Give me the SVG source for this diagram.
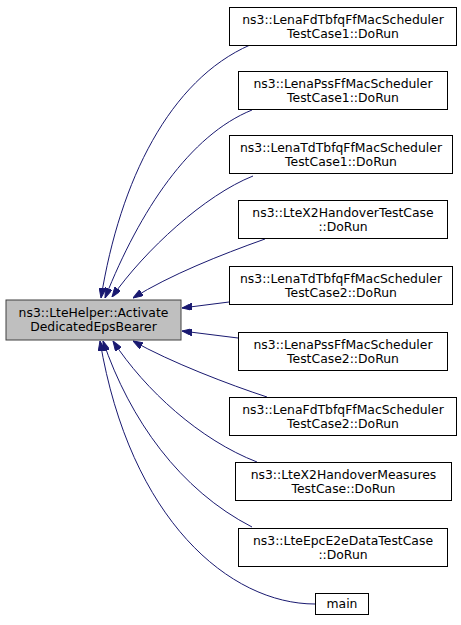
<svg xmlns="http://www.w3.org/2000/svg" width="461" height="625" viewBox="0 0 461 625">
<style>
.box{fill:#ffffff;stroke:#000000;stroke-width:1}
.main{fill:#bfbfbf;stroke:#404040;stroke-width:1}
text{font-family:"DejaVu Sans",sans-serif;font-size:12.4px;fill:#000000;text-anchor:middle}
.edge{fill:none;stroke:#191970;stroke-width:1;marker-end:url(#arr)}
</style>
<defs>
<marker id="arr" viewBox="0 0 10 7" refX="10" refY="3.5" markerWidth="10" markerHeight="7" markerUnits="userSpaceOnUse" orient="auto">
<path d="M0,0 L10,3.5 L0,7 z" fill="#191970" stroke="#191970" stroke-width="1"/>
</marker>
</defs>
<rect width="461" height="625" fill="#ffffff"/>
<g id="connectors">
<path class="edge" d="M250,45 C170,80 120,180 101,298"/>
<path class="edge" d="M252,110 C190,135 140,210 105,298"/>
<path class="edge" d="M253,176 C205,195 145,250 112,297"/>
<path class="edge" d="M265,239 C220,255 170,275 133,298"/>
<path class="edge" d="M229,302 L182,308"/>
<path class="edge" d="M238,338 L182,331"/>
<path class="edge" d="M267,397 C230,385 170,362 133,341"/>
<path class="edge" d="M257,462 C200,440 145,390 113,341"/>
<path class="edge" d="M252,527 C180,490 130,420 103,341"/>
<path class="edge" d="M315,604 C230,604 130,520 100,341"/>
</g>
<g id="node-main">
<rect class="main" x="6" y="300" width="175" height="40"/>
<text x="93.5" y="316.5">ns3::LteHelper::Activate</text>
<text x="93.5" y="331">DedicatedEpsBearer</text>
</g>
<g id="node-1">
<rect class="box" x="229.5" y="7.5" width="227" height="38"/>
<text x="343" y="23.5">ns3::LenaFdTbfqFfMacScheduler</text>
<text x="343" y="37.5">TestCase1::DoRun</text>
</g>
<g id="node-2">
<rect class="box" x="238.5" y="71.5" width="209" height="38"/>
<text x="343" y="87.5">ns3::LenaPssFfMacScheduler</text>
<text x="343" y="101.5">TestCase1::DoRun</text>
</g>
<g id="node-3">
<rect class="box" x="229.5" y="135.5" width="223" height="38"/>
<text x="341" y="151.5">ns3::LenaTdTbfqFfMacScheduler</text>
<text x="341" y="165.5">TestCase1::DoRun</text>
</g>
<g id="node-4">
<rect class="box" x="238.5" y="200.5" width="209" height="38"/>
<text x="343" y="216.5">ns3::LteX2HandoverTestCase</text>
<text x="343" y="230.5">::DoRun</text>
</g>
<g id="node-5">
<rect class="box" x="229.5" y="266.5" width="223" height="38"/>
<text x="341" y="282.5">ns3::LenaTdTbfqFfMacScheduler</text>
<text x="341" y="296.5">TestCase2::DoRun</text>
</g>
<g id="node-6">
<rect class="box" x="238.5" y="332.5" width="209" height="38"/>
<text x="343" y="348.5">ns3::LenaPssFfMacScheduler</text>
<text x="343" y="362.5">TestCase2::DoRun</text>
</g>
<g id="node-7">
<rect class="box" x="229.5" y="397.5" width="227" height="38"/>
<text x="343" y="413.5">ns3::LenaFdTbfqFfMacScheduler</text>
<text x="343" y="427.5">TestCase2::DoRun</text>
</g>
<g id="node-8">
<rect class="box" x="235.5" y="462.5" width="216" height="38"/>
<text x="343.5" y="478.5">ns3::LteX2HandoverMeasures</text>
<text x="343.5" y="492.5">TestCase::DoRun</text>
</g>
<g id="node-9">
<rect class="box" x="238.5" y="528.5" width="209" height="38"/>
<text x="343" y="544.5">ns3::LteEpcE2eDataTestCase</text>
<text x="343" y="558.5">::DoRun</text>
</g>
<g id="node-10">
<rect class="box" x="315.5" y="593.5" width="53" height="21"/>
<text x="342" y="608">main</text>
</g>
</svg>
